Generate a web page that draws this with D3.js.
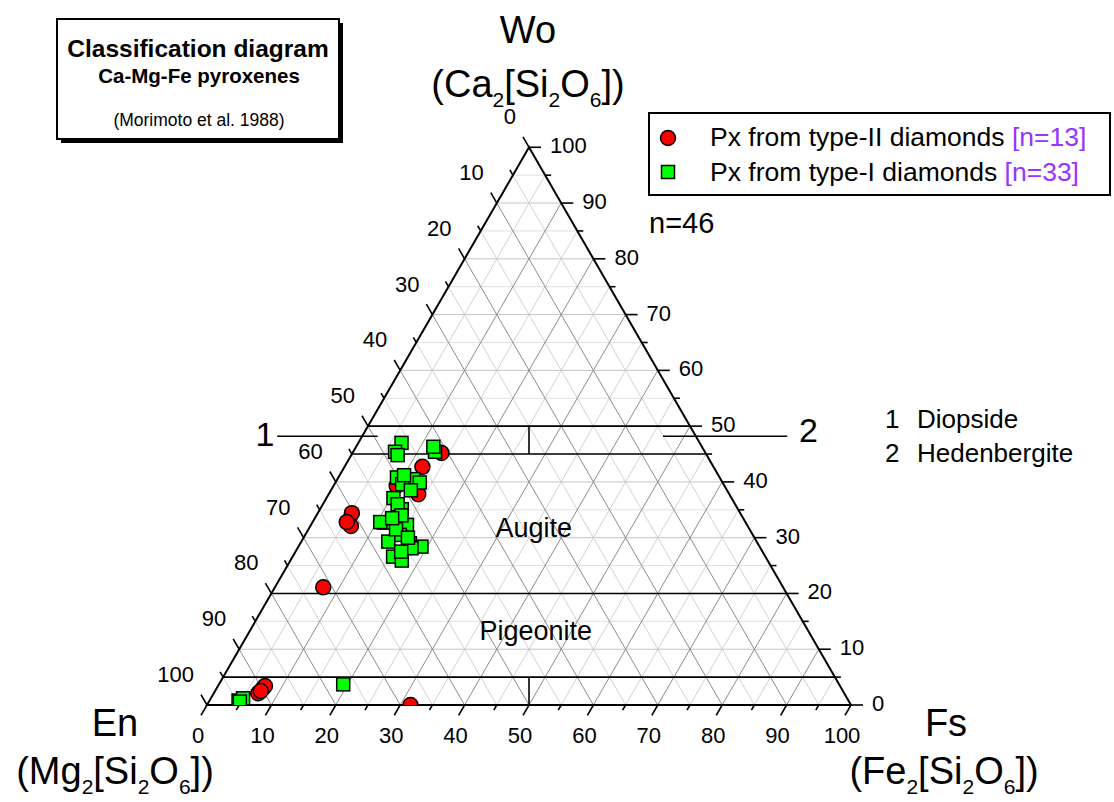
<!DOCTYPE html>
<html>
<head>
<meta charset="utf-8">
<script src="https://cdn.jsdelivr.net/npm/d3@7"></script>
<style>
  body { margin: 0; background: #fff; }
  svg { display: block; font-family: "Liberation Sans", Arial, sans-serif; }
</style>
</head>
<body>
<svg id="chart" width="1114" height="802"></svg>
<script>
// compositions in mol%, En = 100 - Wo - Fs
const typeIIWo = [45.2, 42.7, 39.3, 37.8, 34.4, 32.1, 32.8, 21.1, 3.0, 2.1, 3.4, 2.5, 0.0];
const typeIIFs = [13.8, 12.1, 9.8, 13.9, 5.3, 6.3, 5.3, 7.5, 7.2, 6.9, 7.3, 7.1, 31.6];

const typeIWo = [47.0, 45.4, 45.4, 46.3, 40.8, 40.5, 39.9, 37.1, 35.1, 32.7, 32.8,
                 32.3, 30.5, 29.3, 29.0, 28.4, 28.1, 26.6, 25.9, 0.8, 1.2, 3.7,
                 0.6, 39.6, 41.2, 36.0, 34.0, 31.5, 30.0, 27.5, 33.5, 44.8, 38.5];
const typeIFs = [6.7, 6.5, 12.7, 12.0, 9.1, 11.8, 13.1, 10.4, 12.7, 11.1, 10.5,
                 14.9, 14.7, 13.5, 17.0, 19.1, 17.7, 15.6, 17.3, 4.5, 5.0, 19.3,
                 4.8, 10.5, 10.0, 11.6, 13.2, 13.6, 16.2, 16.4, 12.0, 7.2, 12.4];

const seriesNames = ["Px from type-II diamonds ", "Px from type-I diamonds "];
const seriesCounts = ["[n=13]", "[n=33]"];

// Morimoto (1988) field boundaries, as Wo levels
const boundaryWo = [50, 45, 20, 5];
const fieldNames = ["Augite", "Pigeonite"];
const fieldWo = [31.7, 13.3];
const fieldFs = [34.9, 44.4];

const tickValues = d3.range(0, 101, 5);

// ---- geometry
const side = 644, x0 = 207, y0 = 705;
const h = side * Math.sqrt(3) / 2;
const xs = d3.scaleLinear().domain([0, 100]).range([x0, x0 + side]);
const ys = d3.scaleLinear().domain([0, 100]).range([y0, y0 - h]);
const proj = (wo, fs) => [xs(fs + wo / 2), ys(wo)];

const svg = d3.select("#chart");
const line = d3.line();

svg.append("defs").append("clipPath").attr("id", "clip")
  .append("rect").attr("x", 0).attr("y", 0).attr("width", 1114).attr("height", y0);

// ---- grid
const grid = svg.append("g");
const gridLines = [];
d3.range(5, 100, 5).forEach(v => {
  const major = v % 10 === 0;
  gridLines.push({ p: [proj(v, 0), proj(v, 100 - v)], kind: major ? "hMaj" : "hMin" });
  gridLines.push({ p: [proj(0, v), proj(100 - v, v)], kind: major ? "dMaj" : "dMin" });
  gridLines.push({ p: [proj(0, 100 - v), proj(100 - v, 0)], kind: major ? "dMaj" : "dMin" });
});
const gridColor = { hMaj: "#c4c4c4", hMin: "#e0e0e0", dMaj: "#8c8c8c", dMin: "#d2d2d2" };
const order = { hMin: 0, dMin: 1, hMaj: 2, dMaj: 3 };
gridLines.sort((a, b) => order[a.kind] - order[b.kind]);
grid.selectAll("path").data(gridLines).enter().append("path")
  .attr("d", d => line(d.p))
  .attr("fill", "none")
  .attr("stroke", d => gridColor[d.kind])
  .attr("stroke-width", 1);

// ---- field boundaries
const bnd = svg.append("g").attr("stroke", "#000").attr("stroke-width", 1.6).attr("fill", "none");
boundaryWo.forEach(w => bnd.append("path").attr("d", line([proj(w, 0), proj(w, 100 - w)])));
bnd.append("path").attr("d", line([proj(45, 27.5), proj(50, 25)]));
bnd.append("path").attr("d", line([proj(0, 50), proj(5, 47.5)]));

// ---- triangle frame
svg.append("path")
  .attr("d", line([proj(100, 0), proj(0, 0), proj(0, 100)]) + "Z")
  .attr("fill", "none").attr("stroke", "#000").attr("stroke-width", 2);

// ---- axes (ticks + labels)
const axes = [
  { at: v => proj(100 - v, 0), dir: [-0.5, -0.866], lab: [-13, -23], anchor: "end" },   // En, left
  { at: v => proj(v, 100 - v), dir: [1, 0], lab: [21, 6], anchor: "start" },            // Wo, right
  { at: v => proj(0, v), dir: [-0.5, 0.866], lab: [-9, 38], anchor: "middle" }           // Fs, bottom
];
const ax = svg.append("g");
axes.forEach(a => {
  tickValues.forEach(v => {
    const [px, py] = a.at(v);
    const len = v % 10 === 0 ? 12 : 6;
    ax.append("path")
      .attr("d", line([[px, py], [px + a.dir[0] * len, py + a.dir[1] * len]]))
      .attr("stroke", "#000").attr("stroke-width", 1.6);
    if (v % 10 === 0) {
      ax.append("text")
        .attr("x", px + a.lab[0]).attr("y", py + a.lab[1])
        .attr("text-anchor", a.anchor)
        .attr("font-size", 22)
        .text(v);
    }
  });
});

// ---- field names
svg.append("g").selectAll("text").data(fieldNames).enter().append("text")
  .attr("x", (d, i) => proj(fieldWo[i], fieldFs[i])[0])
  .attr("y", (d, i) => proj(fieldWo[i], fieldFs[i])[1] + 9)
  .attr("text-anchor", "middle")
  .attr("font-size", 27)
  .text(d => d);

// ---- pointer lines for Diopside / Hedenbergite
const ptr = svg.append("g");
ptr.append("path").attr("d", line([proj(48.2, -13.2), proj(48.2, 2.4)]))
  .attr("stroke", "#000").attr("stroke-width", 1.4);
ptr.append("path").attr("d", line([proj(48.2, 46.7), proj(48.2, 66)]))
  .attr("stroke", "#000").attr("stroke-width", 1.4);
ptr.append("text").attr("x", proj(48.2, -15.1)[0]).attr("y", proj(48.2, 0)[1] + 10)
  .attr("text-anchor", "middle").attr("font-size", 34).text("1");
ptr.append("text").attr("x", proj(48.2, 69.3)[0]).attr("y", proj(48.2, 0)[1] + 6)
  .attr("text-anchor", "middle").attr("font-size", 34).text("2");

// ---- data points
const pts = svg.append("g").attr("clip-path", "url(#clip)");
pts.selectAll("circle").data(typeIIWo).enter().append("circle")
  .attr("cx", (d, i) => proj(d, typeIIFs[i])[0])
  .attr("cy", (d, i) => proj(d, typeIIFs[i])[1])
  .attr("r", 7.5)
  .attr("fill", "#ff0000").attr("stroke", "#000").attr("stroke-width", 1.5);
const sq = 13;
pts.selectAll("rect").data(typeIWo).enter().append("rect")
  .attr("x", (d, i) => proj(d, typeIFs[i])[0] - sq / 2)
  .attr("y", (d, i) => proj(d, typeIFs[i])[1] - sq / 2)
  .attr("width", sq).attr("height", sq)
  .attr("fill", "#00ff00").attr("stroke", "#000").attr("stroke-width", 1.5);

// ---- corner labels with subscripts
function formula(x, y, parts) {
  const t = svg.append("text").attr("x", x).attr("y", y)
    .attr("text-anchor", "middle").attr("font-size", 38);
  let down = false;
  parts.forEach(p => {
    const isSub = /^\d$/.test(p);
    const ts = t.append("tspan").text(p);
    if (isSub) { ts.attr("font-size", 21).attr("dy", 10); down = true; }
    else if (down) { ts.attr("dy", -10); down = false; }
  });
}
svg.append("text").attr("x", 528).attr("y", 43).attr("text-anchor", "middle")
  .attr("font-size", 38).text("Wo");
formula(528, 97, ["(Ca", "2", "[Si", "2", "O", "6", "])"]);
svg.append("text").attr("x", 115).attr("y", 736).attr("text-anchor", "middle")
  .attr("font-size", 38).text("En");
formula(115, 784, ["(Mg", "2", "[Si", "2", "O", "6", "])"]);
svg.append("text").attr("x", 946).attr("y", 736).attr("text-anchor", "middle")
  .attr("font-size", 38).text("Fs");
formula(944, 784, ["(Fe", "2", "[Si", "2", "O", "6", "])"]);

// ---- title box
svg.append("rect").attr("x", 61).attr("y", 23).attr("width", 282).attr("height", 120).attr("fill", "#000");
svg.append("rect").attr("x", 57).attr("y", 19).attr("width", 282).attr("height", 120)
  .attr("fill", "#fff").attr("stroke", "#000").attr("stroke-width", 2);
svg.append("text").attr("x", 198).attr("y", 57).attr("text-anchor", "middle")
  .attr("font-size", 24.5).attr("font-weight", "bold").text("Classification diagram");
svg.append("text").attr("x", 199).attr("y", 83).attr("text-anchor", "middle")
  .attr("font-size", 20.5).attr("font-weight", "bold").text("Ca-Mg-Fe pyroxenes");
svg.append("text").attr("x", 199).attr("y", 126).attr("text-anchor", "middle")
  .attr("font-size", 17.5).text("(Morimoto et al. 1988)");

// ---- legend
const lg = svg.append("g");
lg.append("rect").attr("x", 649).attr("y", 113).attr("width", 461).attr("height", 82)
  .attr("fill", "#fff").attr("stroke", "#000").attr("stroke-width", 2);
lg.append("circle").attr("cx", 668).attr("cy", 138).attr("r", 7.5)
  .attr("fill", "#ff0000").attr("stroke", "#000").attr("stroke-width", 1.5);
lg.append("rect").attr("x", 668 - 6.5).attr("y", 172 - 6.5).attr("width", 13).attr("height", 13)
  .attr("fill", "#00ff00").attr("stroke", "#000").attr("stroke-width", 1.5);
seriesNames.forEach((n, i) => {
  const t = lg.append("text").attr("x", 710).attr("y", 146 + i * 35).attr("font-size", 26.5);
  t.append("tspan").text(n);
  t.append("tspan").attr("fill", "#9933ff").text(seriesCounts[i]);
});

svg.append("text").attr("x", 649).attr("y", 233).attr("font-size", 29).text("n=46");

// ---- field key
const key = [["1", "Diopside"], ["2", "Hedenbergite"]];
key.forEach((k, i) => {
  svg.append("text").attr("x", 885).attr("y", 428 + i * 34).attr("font-size", 26).text(k[0]);
  svg.append("text").attr("x", 917).attr("y", 428 + i * 34).attr("font-size", 26).text(k[1]);
});
</script>
</body>
</html>
